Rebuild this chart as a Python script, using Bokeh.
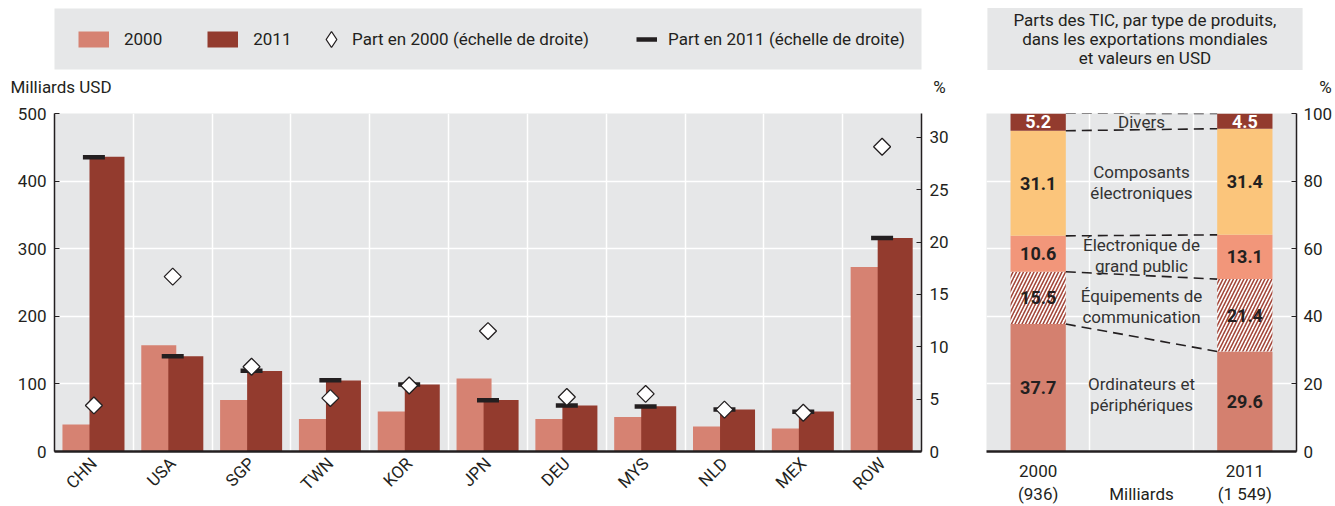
import math
import numpy as np
from bokeh.plotting import figure
from bokeh.models import (ColumnDataSource, FactorRange, Range1d, LinearAxis, Legend,
                          LegendItem, Label, FixedTicker, CategoricalAxis, BoxAnnotation)
from bokeh.core.properties import value
from bokeh.transform import dodge
from bokeh.layouts import row, column
from bokeh.embed import file_html
from bokeh.resources import INLINE

FONT = "Roboto"
DARK = "#231F20"
BG = "#E6E7E8"
C2000 = "#D68272"
C2011 = "#933B2E"
NAN = float("nan")

# ---------------- data: left panel ----------------
countries = ["CHN", "USA", "SGP", "TWN", "KOR", "JPN", "DEU", "MYS", "NLD", "MEX", "ROW"]
exports_2000 = [40, 157, 76, 48, 59, 108, 48, 51, 37, 34, 273]
exports_2011 = [436, 141, 119, 105, 99, 76, 68, 67, 62, 59, 316]
share_2000 = [4.4, 16.7, 8.1, 5.1, 6.3, 11.5, 5.2, 5.5, 4.0, 3.7, 29.1]
share_2011 = [28.1, 9.1, 7.7, 6.8, 6.4, 4.9, 4.4, 4.3, 4.0, 3.8, 20.4]
left_ticks = [0, 100, 200, 300, 400, 500]
right_ticks = [0, 5, 10, 15, 20, 25, 30]
legend_labels = ["2000", "2011", "Part en 2000 (échelle de droite)", "Part en 2011 (échelle de droite)"]
left_unit = "Milliards USD"
pct_unit = "%"

# ---------------- data: right panel ----------------
year_labels = ["2000", "2011"]
world_total_2000 = 936
world_total_2011 = 1549
middle_label = "Milliards"
product_types = ["Ordinateurs et\npériphériques", "Équipements de\ncommunication",
                 "Électronique de\ngrand public", "Composants\nélectroniques", "Divers"]
type_share_2000 = [37.7, 15.5, 10.6, 31.1, 5.2]
type_share_2011 = [29.6, 21.4, 13.1, 31.4, 4.5]
type_colors = ["#D4806F", "#FFFFFF", "#F2967A", "#FBC57B", "#933B2E"]
type_hatch = [None, "right_diagonal_line", None, None, None]
type_text_colors = [DARK, DARK, DARK, DARK, "white"]
panel_title = "Parts des TIC, par type de produits,\ndans les exportations mondiales\net valeurs en USD"
right_panel_ticks = [0, 20, 40, 60, 80, 100]

FS = "17px"


def no_align(fig):
    try:
        fig.frame_align = False
    except Exception:
        pass


def style_axis(ax, size=FS):
    ax.axis_line_color = DARK
    ax.axis_line_width = 1.5
    ax.major_tick_line_color = DARK
    ax.major_tick_in = 5
    ax.major_tick_out = 0
    ax.minor_tick_line_color = None
    ax.major_label_text_font = FONT
    ax.major_label_text_font_size = size
    ax.major_label_text_color = DARK


def header(width):
    h = figure(width=width, height=103, x_range=Range1d(0, width), y_range=Range1d(103, 0),
               output_backend="svg", toolbar_location=None, title=None,
               x_axis_location=None, y_axis_location=None, min_border=0,
               background_fill_color="white", border_fill_color="white",
               outline_line_color=None)
    h.xgrid.visible = False
    h.ygrid.visible = False
    no_align(h)
    return h


def make_legend(items, loc, gw, gh, standoff, spacing=0):
    return Legend(items=items, orientation="horizontal", location=loc,
                  glyph_width=gw, glyph_height=gh, label_standoff=standoff, spacing=spacing,
                  padding=0, margin=0, background_fill_alpha=0, border_line_color=None,
                  label_text_font=FONT, label_text_font_size=FS, label_text_color=DARK)


# ================= left header (legend + unit labels) =================
hl = header(958)
hl.add_layout(BoxAnnotation(left=54, right=921, top=8, bottom=69, fill_color=BG,
                            fill_alpha=1, line_color=None, level="underlay"))
lg1 = hl.line(x=[NAN], y=[NAN], line_color=C2000, line_width=16)
lg2 = hl.line(x=[NAN], y=[NAN], line_color=C2011, line_width=16)
lg3 = hl.scatter(x=[NAN], y=[NAN], marker="diamond", fill_color="white",
                 line_color=DARK, line_width=1.3)
lg4 = hl.line(x=[NAN], y=[NAN], line_color=DARK, line_width=4.5)
hl.add_layout(make_legend([LegendItem(label=legend_labels[0], renderers=[lg1]),
                           LegendItem(label=legend_labels[1], renderers=[lg2])],
                          (78, 50), 31, 28, 15, 45))
hl.add_layout(make_legend([LegendItem(label=legend_labels[2], renderers=[lg3])],
                          (311, 44), 40, 40, 1))
hl.add_layout(make_legend([LegendItem(label=legend_labels[3], renderers=[lg4])],
                          (636, 50), 21, 28, 11))
hl.add_layout(Label(x=10, y=86, text=left_unit, text_align="left", text_baseline="middle",
                    text_font=FONT, text_font_size=FS, text_color=DARK))
hl.add_layout(Label(x=939, y=86, text=pct_unit, text_align="center", text_baseline="middle",
                    text_font=FONT, text_font_size=FS, text_color=DARK))

# ================= left chart =================
p = figure(x_range=FactorRange(*countries), y_range=Range1d(0, 500),
           width=958, height=403, output_backend="svg", toolbar_location=None, title=None,
           min_border_left=54, min_border_right=37, min_border_top=10, min_border_bottom=55,
           background_fill_color=BG, border_fill_color="white", outline_line_color=None)
p.extra_y_ranges = {"share": Range1d(0, 500 / world_total_2011 * 100)}

src = ColumnDataSource(dict(country=countries, v2000=exports_2000, v2011=exports_2011,
                            s2000=share_2000, s2011=share_2011))
p.vbar(x=dodge("country", -0.177, range=p.x_range), top="v2000", width=0.444,
       source=src, fill_color=C2000, line_color=None)
p.vbar(x=dodge("country", 0.166, range=p.x_range), top="v2011", width=0.444,
       source=src, fill_color=C2011, line_color=None)
p.scatter(x="country", y="s2011", marker="dash", size=22, line_width=4.5,
          line_color=DARK, y_range_name="share", source=src)
p.scatter(x="country", y="s2000", marker="square", angle=math.pi / 4, size=12,
          fill_color="white", line_color=DARK, line_width=1.3,
          y_range_name="share", source=src)

style_axis(p.yaxis[0])
p.yaxis[0].ticker = FixedTicker(ticks=left_ticks)
p.yaxis[0].major_label_standoff = 8
ax_r = LinearAxis(y_range_name="share", ticker=FixedTicker(ticks=right_ticks))
style_axis(ax_r)
ax_r.major_label_standoff = 8
p.add_layout(ax_r, "right")

xa = p.xaxis[0]
style_axis(xa)
xa.axis_line_width = 2.5
xa.major_tick_line_color = None
xa.major_label_orientation = math.pi / 4
xa.major_label_standoff = 9

p.ygrid.ticker = FixedTicker(ticks=left_ticks[1:])
p.ygrid.grid_line_color = "white"
p.ygrid.grid_line_width = 1.5
p.xgrid.ticker = FixedTicker(ticks=list(range(1, len(countries))))
p.xgrid.grid_line_color = "white"
p.xgrid.grid_line_width = 1.5

# ================= right header =================
hr = header(377)
hr.add_layout(Label(x=186.5, y=38.5, text=panel_title, text_align="center",
                    text_baseline="middle", text_font=FONT, text_font_size=FS,
                    text_color=DARK, text_line_height=0.95, background_fill_color=BG,
                    padding=dict(left=26, right=26, top=2, bottom=2)))
hr.add_layout(Label(x=367, y=86, text=pct_unit, text_align="center", text_baseline="middle",
                    text_font=FONT, text_font_size=FS, text_color=DARK))

# ================= right chart =================
line1 = [year_labels[0], " ", year_labels[1]]
fmt = lambda v: f"({v:,})".replace(",", " ")
line2 = [fmt(world_total_2000), middle_label, fmt(world_total_2011)]

q = figure(x_range=FactorRange(*line1), y_range=Range1d(0, 100),
           width=377, height=403, output_backend="svg", toolbar_location=None, title=None,
           y_axis_location="right",
           min_border_left=28, min_border_right=35, min_border_top=10, min_border_bottom=55,
           background_fill_color=BG, border_fill_color="white", outline_line_color=None)
q.extra_x_ranges = {"line2": FactorRange(*line2)}

bar_w = 0.535
bottoms00 = np.concatenate([[0], np.cumsum(type_share_2000)[:-1]])
bottoms11 = np.concatenate([[0], np.cumsum(type_share_2011)[:-1]])
for i, name in enumerate(product_types):
    s = ColumnDataSource(dict(year=year_labels,
                              bottom=[bottoms00[i], bottoms11[i]],
                              top=[bottoms00[i] + type_share_2000[i], bottoms11[i] + type_share_2011[i]]))
    kw = dict(fill_color=type_colors[i], line_color=None)
    if type_hatch[i]:
        kw.update(hatch_pattern=type_hatch[i], hatch_color="#A3473A", hatch_weight=1.6,
                  hatch_scale=7)
    q.vbar(x="year", bottom="bottom", top="top", width=bar_w, source=s, **kw)

# dashed connectors between the stacks
tops00 = np.cumsum(type_share_2000)
tops11 = np.cumsum(type_share_2011)
conn = ColumnDataSource(dict(a=[year_labels[0]] * len(tops00), b=[year_labels[1]] * len(tops11),
                             y0=list(tops00), y1=list(tops11)))
q.segment(x0=dodge("a", bar_w / 2, range=q.x_range), y0="y0",
          x1=dodge("b", -bar_w / 2, range=q.x_range), y1="y1", source=conn,
          line_color=DARK, line_width=1.6, line_dash="10 6")

# values inside the bars
vals = ColumnDataSource(dict(
    x=[year_labels[0]] * 5 + [year_labels[1]] * 5,
    y=list(bottoms00 + np.array(type_share_2000) / 2) + list(bottoms11 + np.array(type_share_2011) / 2),
    t=[f"{v:.1f}" for v in type_share_2000] + [f"{v:.1f}" for v in type_share_2011],
    c=type_text_colors + type_text_colors))
q.text(x="x", y="y", text="t", text_color="c", source=vals, text_align="center",
       text_baseline="middle", text_font=value(FONT), text_font_size=value("18px"),
       text_font_style="bold")

# product-type names between the bars
mids = (bottoms00 + np.array(type_share_2000) / 2 + bottoms11 + np.array(type_share_2011) / 2) / 2
names = ColumnDataSource(dict(x=[line1[1]] * 5, y=list(mids), t=product_types))
q.text(x="x", y="y", text="t", source=names, text_align="center", text_baseline="middle",
       text_font=value(FONT), text_font_size=value(FS), text_color="#333333",
       text_line_height=1.05)

ya = q.yaxis[0]
style_axis(ya)
ya.ticker = FixedTicker(ticks=right_panel_ticks)
ya.major_label_standoff = 7
xb = q.xaxis[0]
style_axis(xb)
xb.axis_line_width = 2.5
xb.major_tick_line_color = None
xb.major_label_standoff = 9
xb2 = CategoricalAxis(x_range_name="line2")
style_axis(xb2)
xb2.axis_line_color = None
xb2.major_tick_line_color = None
xb2.major_label_standoff = 0
q.add_layout(xb2, "below")

q.ygrid.ticker = FixedTicker(ticks=right_panel_ticks[1:-1])
q.ygrid.grid_line_color = "white"
q.ygrid.grid_line_width = 1.5
q.xgrid.ticker = FixedTicker(ticks=[1, 2])
q.xgrid.grid_line_color = "white"
q.xgrid.grid_line_width = 1.5

layout = column(row(hl, hr), row(p, q))
open("out.html", "w").write(file_html(layout, INLINE))
